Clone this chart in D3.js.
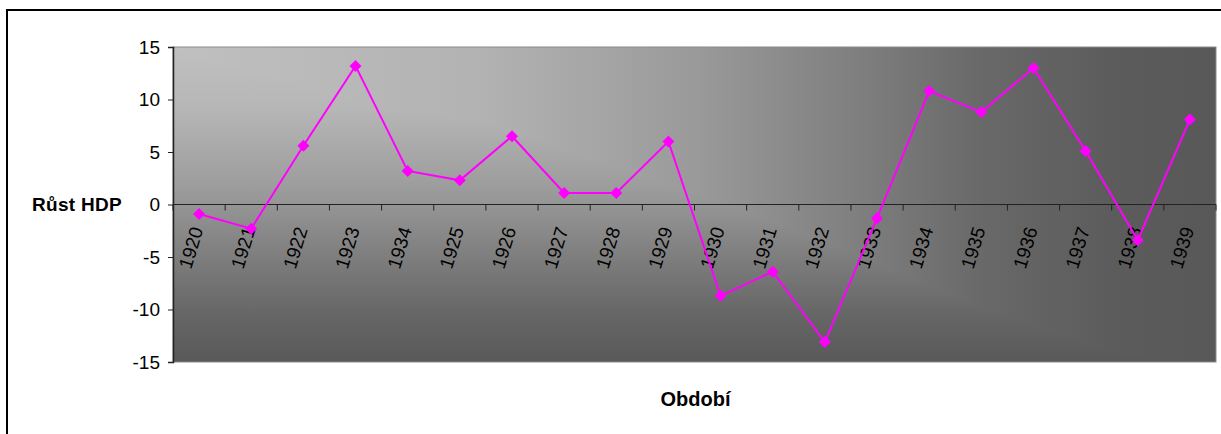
<!DOCTYPE html>
<html>
<head>
<meta charset="utf-8">
<script src="https://cdn.jsdelivr.net/npm/d3@7"></script>
<style>
  body { margin: 0; background: #fff; }
  svg { display: block; font-family: "Liberation Sans", Arial, sans-serif; }
</style>
</head>
<body>
<div id="chart"></div>
<script>
// years as printed on the axis (the 5th one really reads 1934)
const years = ['1920', '1921', '1922', '1923', '1934', '1925', '1926', '1927', '1928', '1929',
               '1930', '1931', '1932', '1933', '1934', '1935', '1936', '1937', '1938', '1939'];
const growth = [-0.9, -2.3, 5.6, 13.2, 3.2, 2.3, 6.5, 1.1, 1.1, 6.0,
                -8.7, -6.4, -13.1, -1.3, 10.8, 8.8, 13.0, 5.1, -3.4, 8.1];
const yTicks = [-15, -10, -5, 0, 5, 10, 15];
const yTitle = 'Růst HDP';
const xTitle = 'Období';

const width = 1221;
const height = 434;

const plot = { left: 173, right: 1216, top: 47, bottom: 362 };

const svg = d3
  .select('#chart')
  .append('svg')
  .attr('width', width)
  .attr('height', height);

// outer chart frame, runs off the right and bottom of the picture
svg.append('rect')
  .attr('x', 7).attr('y', 10)
  .attr('width', 1240).attr('height', 460)
  .attr('fill', 'none')
  .attr('stroke', '#000')
  .attr('stroke-width', 2);

// "from corner" fill: a vertical and a horizontal ramp, darken-blended
const defs = svg.append('defs');
const vGrad = defs.append('linearGradient')
  .attr('id', 'bgV')
  .attr('x1', 0).attr('y1', 0).attr('x2', 0).attr('y2', 1);
[[0, '#c0c0c0'], [0.2, '#b6b6b6'], [0.45, '#9c9c9c'], [0.65, '#808080'], [0.85, '#666'], [1, '#595959']]
  .forEach(([o, c]) => vGrad.append('stop').attr('offset', o).attr('stop-color', c));
const hGrad = defs.append('linearGradient')
  .attr('id', 'bgH')
  .attr('x1', 0).attr('y1', 0).attr('x2', 1).attr('y2', 0);
[[0, '#c0c0c0'], [0.3, '#b2b2b2'], [0.5, '#9a9a9a'], [0.65, '#808080'], [0.78, '#686868'], [0.9, '#5c5c5c'], [1, '#585858']]
  .forEach(([o, c]) => hGrad.append('stop').attr('offset', o).attr('stop-color', c));

const data = years.map((y, i) => ({ i, year: y, value: growth[i] }));

const xScale = d3.scaleBand()
  .domain(d3.range(years.length))
  .range([plot.left, plot.right]);

const yScale = d3.scaleLinear()
  .domain([-15, 15])
  .range([plot.bottom, plot.top]);

// plot area
const bg = svg.append('g').style('isolation', 'isolate');
bg.append('rect')
  .attr('x', plot.left).attr('y', plot.top)
  .attr('width', plot.right - plot.left)
  .attr('height', plot.bottom - plot.top)
  .attr('fill', 'url(#bgV)');
bg.append('rect')
  .attr('x', plot.left).attr('y', plot.top)
  .attr('width', plot.right - plot.left)
  .attr('height', plot.bottom - plot.top)
  .attr('fill', 'url(#bgH)')
  .style('mix-blend-mode', 'darken');
svg.append('rect')
  .attr('x', plot.left).attr('y', plot.top)
  .attr('width', plot.right - plot.left)
  .attr('height', plot.bottom - plot.top)
  .attr('fill', 'none')
  .attr('stroke', '#8a8a8a')
  .attr('stroke-width', 1);

// y axis
const yAxis = svg.append('g')
  .attr('transform', `translate(${plot.left}, 0)`)
  .call(d3.axisLeft(yScale).tickValues(yTicks).tickFormat((d) => String(d)).tickSize(5).tickPadding(8));
yAxis.select('.domain').attr('stroke', '#222').attr('stroke-width', 1.5);
yAxis.selectAll('.tick line').attr('stroke', '#222');
yAxis.selectAll('.tick text')
  .attr('font-size', 19)
  .attr('fill', '#000')
  .attr('font-family', '"Liberation Sans", Arial, sans-serif');

// x axis at zero: line + ticks on band edges
const y0 = yScale(0);
const xAxis = svg.append('g');
xAxis.append('line')
  .attr('x1', plot.left).attr('x2', plot.right)
  .attr('y1', y0).attr('y2', y0)
  .attr('stroke', '#222').attr('stroke-width', 1.2);
xAxis.selectAll('line.tick')
  .data(d3.range(years.length + 1))
  .join('line')
  .attr('class', 'tick')
  .attr('x1', (d) => plot.left + d * xScale.step())
  .attr('x2', (d) => plot.left + d * xScale.step())
  .attr('y1', y0).attr('y2', y0 + 6)
  .attr('stroke', '#222');
xAxis.selectAll('text')
  .data(data)
  .join('text')
  .attr('transform', (d) => `translate(${xScale(d.i) + xScale.bandwidth() / 2 - 2}, ${y0 + 23}) rotate(-73)`)
  .attr('text-anchor', 'end')
  .attr('dy', '0.35em')
  .attr('font-size', 19)
  .attr('fill', '#000')
  .text((d) => d.year);

// series
const line = d3.line()
  .x((d) => xScale(d.i) + xScale.bandwidth() / 2)
  .y((d) => yScale(d.value));

svg.append('path')
  .datum(data)
  .attr('d', line)
  .attr('fill', 'none')
  .attr('stroke', '#ff00ff')
  .attr('stroke-width', 2);

svg.append('g')
  .selectAll('path')
  .data(data)
  .join('path')
  .attr('d', d3.symbol(d3.symbolSquare, 72))
  .attr('transform', (d) => `translate(${xScale(d.i) + xScale.bandwidth() / 2}, ${yScale(d.value)}) rotate(45)`)
  .attr('fill', '#ff00ff');

// axis titles
svg.append('text')
  .attr('x', 122).attr('y', y0)
  .attr('dy', '0.35em')
  .attr('text-anchor', 'end')
  .attr('font-size', 19)
  .attr('font-weight', 'bold')
  .attr('letter-spacing', 0.3)
  .text(yTitle);

svg.append('text')
  .attr('x', (plot.left + plot.right) / 2 + 1).attr('y', 406)
  .attr('text-anchor', 'middle')
  .attr('font-size', 20)
  .attr('font-weight', 'bold')
  .text(xTitle);
</script>
</body>
</html>
